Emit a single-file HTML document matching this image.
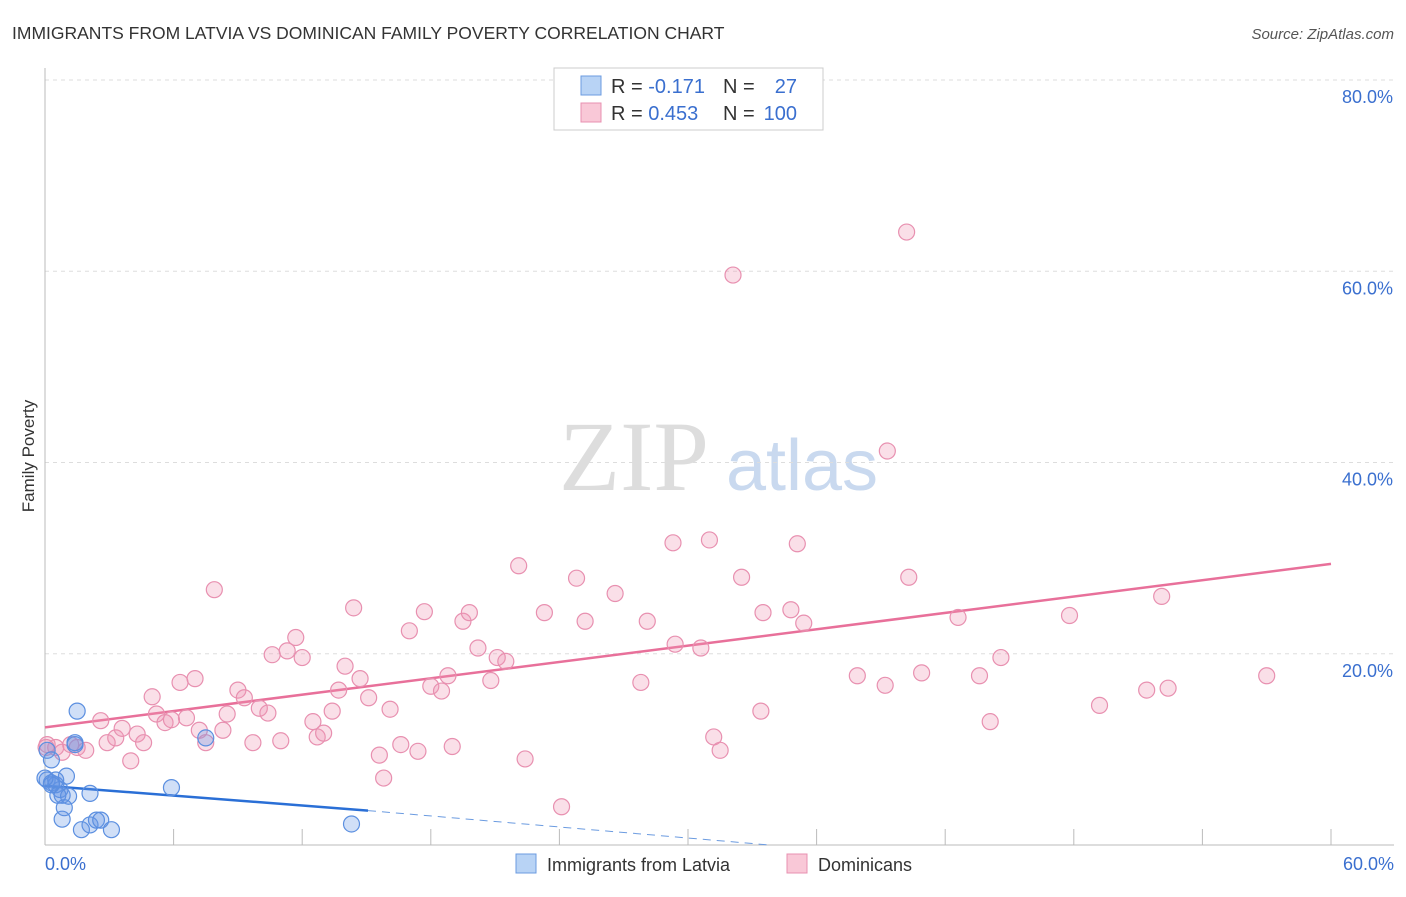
<!DOCTYPE html>
<html><head><meta charset="utf-8"><style>
body{margin:0;background:#fff;font-family:"Liberation Sans",sans-serif;}
</style></head><body>
<svg width="1406" height="892" font-family="Liberation Sans, sans-serif">
<text x="12" y="39" font-size="17.5" fill="#333">IMMIGRANTS FROM LATVIA VS DOMINICAN FAMILY POVERTY CORRELATION CHART</text>
<text x="1394" y="39" font-size="15" fill="#555" font-style="italic" text-anchor="end">Source: ZipAtlas.com</text>
<text x="34" y="456" font-size="17" fill="#333" transform="rotate(-90 34 456)" text-anchor="middle">Family Poverty</text>
<g>
<text x="634" y="490" font-size="100" fill="#ddd" style="font-family:'Liberation Serif',serif" text-anchor="middle">ZIP</text>
<text x="802" y="490" font-size="72" fill="#c9d9ef" text-anchor="middle">atlas</text>
</g>
<g id="grid"></g><g id="axes"></g><g id="lines"></g><g id="pts"></g>
<g>
<rect x="554" y="68" width="269" height="62" fill="#fff" stroke="#ccc"/>
<rect x="581" y="76" width="20" height="19" fill="#b8d3f5" stroke="#6b9be0"/>
<rect x="581" y="103" width="20" height="19" fill="#f9c8d7" stroke="#e890b0"/>
<text x="611" y="93" font-size="20" fill="#333">R = <tspan fill="#3a6fcf">-0.171</tspan></text>
<text x="723" y="93" font-size="20" fill="#333">N =</text>
<text x="797" y="93" font-size="20" fill="#3a6fcf" text-anchor="end">27</text>
<text x="611" y="120" font-size="20" fill="#333">R = <tspan fill="#3a6fcf">0.453</tspan></text>
<text x="723" y="120" font-size="20" fill="#333">N =</text>
<text x="797" y="120" font-size="20" fill="#3a6fcf" text-anchor="end">100</text>
</g>
<g>
<rect x="516" y="854" width="20" height="19" fill="#b8d3f5" stroke="#6b9be0"/>
<text x="547" y="871" font-size="18" fill="#333">Immigrants from Latvia</text>
<rect x="787" y="854" width="20" height="19" fill="#f9c8d7" stroke="#e890b0"/>
<text x="818" y="871" font-size="18" fill="#333">Dominicans</text>
</g>
</svg>
<script>
const yTicks=[20,40,60,80];
const xTickLabels=["0.0%","60.0%"];
const pinkX=[0.1,0.5,0.8,1.2,1.5,1.9,2.6,2.9,3.3,3.6,4.0,4.3,4.6,5.0,5.2,5.6,5.9,6.3,6.6,7.0,7.2,7.5,7.9,8.3,8.5,9.0,9.3,9.7,10.0,10.4,10.6,11.0,11.3,11.7,12.0,12.5,12.7,13.0,13.4,13.7,14.0,14.4,14.7,15.1,15.6,15.8,16.1,16.6,17.0,17.4,17.7,18.0,18.5,18.8,19.0,19.5,19.8,20.2,20.8,21.1,21.5,22.1,22.4,23.3,24.1,24.8,25.2,26.6,27.8,28.1,29.3,29.4,30.6,31.0,31.2,31.5,32.1,32.5,33.4,33.5,34.8,35.1,35.4,37.9,39.2,39.3,40.2,40.3,40.9,42.6,43.6,44.1,44.6,47.8,49.2,51.4,52.1,52.4,57.0,0.05];
const pinkY=[10.5,10.2,9.7,10.5,10.2,9.9,13.0,10.7,11.2,12.2,8.8,11.6,10.7,15.5,13.7,12.8,13.1,17.0,13.3,17.4,12.0,10.7,26.7,12.0,13.7,16.2,15.4,10.7,14.3,13.8,19.9,10.9,20.3,21.7,19.6,12.9,11.3,11.7,14.0,16.2,18.7,24.8,17.4,15.4,9.4,7.0,14.2,10.5,22.4,9.8,24.4,16.6,16.1,17.7,10.3,23.4,24.3,20.6,17.2,19.6,19.2,29.2,9.0,24.3,4.0,27.9,23.4,26.3,17.0,23.4,31.6,21.0,20.6,31.9,11.3,9.9,59.6,28.0,14.0,24.3,24.6,31.5,23.2,17.7,16.7,41.2,64.1,28.0,18.0,23.8,17.7,12.9,19.6,24.0,14.6,16.2,26.0,16.4,17.7,10.2];
const blueX=[0.1,0.3,0.1,0.3,0.5,0.7,0.8,1.0,0.6,1.1,0.8,0.9,1.4,1.4,1.5,1.7,2.1,2.1,2.4,2.6,3.1,5.9,7.5,14.3,0.3,0.5,0.0];
const blueY=[9.9,8.9,6.8,6.5,6.3,5.8,5.2,7.2,5.2,5.1,2.7,3.9,10.5,10.7,14.0,1.6,2.1,5.4,2.6,2.6,1.6,6.0,11.2,2.2,6.3,6.8,7.0];
const pinkLine=[12.3,29.4], blueLine=[6.2,3.6], blueSolidEnd=15.07, blueZero=33.8;
const NS="http://www.w3.org/2000/svg";
const X=v=>45+v/60*1286, Y=v=>845-v*9.5625;
function mk(t,a,p){const e=document.createElementNS(NS,t);for(const k in a)e.setAttribute(k,a[k]);document.getElementById(p).appendChild(e);return e;}
yTicks.forEach(t=>{
 let l=mk('line',{x1:45,x2:1394,y1:Y(t),y2:Y(t),stroke:'#ddd','stroke-dasharray':'4,4'},'grid');
 
 
 let tx=mk('text',{x:1393,y:Y(t)+23,'font-size':18,fill:'#3a6fcf','text-anchor':'end'},'grid');
 tx.textContent=t.toFixed(1)+'%';
 
 
});
let ax=mk('line',{x1:45,x2:45,y1:68,y2:845,stroke:'#bbb'},'axes');


let bx=mk('line',{x1:45,x2:1394,y1:845,y2:845,stroke:'#bbb'},'axes');


for(let i=0;i<=10;i++){let t=mk('line',{x1:X(i*6),x2:X(i*6),y1:829,y2:845,stroke:'#bbb'},'axes');
 
 }
[[0,45,'start'],[60,1394,'end']].forEach((d,i)=>{let t=mk('text',{x:d[1],y:870,'font-size':18,fill:'#3a6fcf','text-anchor':d[2]},'axes');t.textContent=xTickLabels[i];
 
 });
pinkX.forEach((x,i)=>{let c=mk('circle',{cx:X(x),cy:Y(pinkY[i]),r:8,fill:'rgba(240,150,180,0.3)',stroke:'#e890b0','stroke-width':1.2},'pts');
 
 });
blueX.forEach((x,i)=>{let c=mk('circle',{cx:X(x),cy:Y(blueY[i]),r:8,fill:'rgba(100,150,230,0.3)',stroke:'#5b8fe0','stroke-width':1.2},'pts');
 
 });
let pl=mk('line',{x1:X(0),y1:Y(pinkLine[0]),x2:X(60),y2:Y(pinkLine[1]),stroke:'#e8709a','stroke-width':2.5},'lines');


let bl=mk('line',{x1:X(0),y1:Y(blueLine[0]),x2:X(blueSolidEnd),y2:Y(blueLine[1]),stroke:'#2a6fd6','stroke-width':2.5},'lines');


let bd=mk('line',{x1:X(blueSolidEnd),y1:Y(blueLine[1]),x2:X(blueZero),y2:Y(0),stroke:'#6b9be0','stroke-width':1,'stroke-dasharray':'8,6'},'lines');


</script>
</body></html>
